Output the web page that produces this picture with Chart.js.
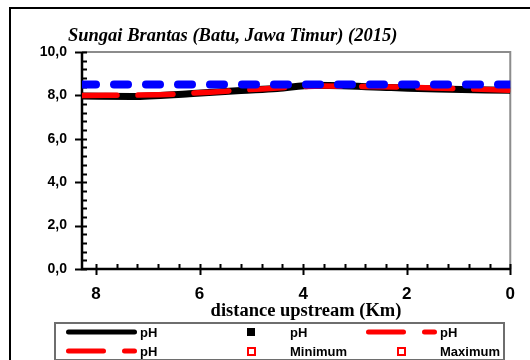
<!DOCTYPE html>
<html>
<head>
<meta charset="utf-8">
<script src="https://cdn.jsdelivr.net/npm/chart.js@4.4.1/dist/chart.umd.min.js"></script>
<style>
  html, body { margin: 0; padding: 0; background: #fff; overflow: hidden; }
  canvas { display: block; }
</style>
</head>
<body>
<canvas id="c" width="530" height="360"></canvas>
<script>
// Texts
const chartTitle = 'Sungai Brantas (Batu, Jawa Timur) (2015)';
const xAxisTitle = 'distance upstream (Km)';

// Axis ranges (km upstream runs right-to-left)
const xRange = [0, 8.27];
const yRange = [0, 10];

// pH profile, solid line
const phDistance = [8.27, 7.3, 6.2, 5.2, 4.5, 3.8, 2.3, 1.4, 0];
const phValues   = [7.97, 7.95, 8.08, 8.23, 8.32, 8.47, 8.36, 8.29, 8.24];

// pH profile, dashed line
const phDashDistance = [8.27, 6.8, 5.8, 4.8, 3.6, 2.5, 1.3, 0];
const phDashValues   = [8.0, 8.03, 8.15, 8.3, 8.43, 8.4, 8.33, 8.24];

// upper pH limit
const limitDistance = [8.27, 0];
const limitValues   = [8.5, 8.5];

const toPoints = (xs, ys) => xs.map((x, i) => ({ x, y: ys[i] }));

const sansNarrow = "'Liberation Sans Narrow', 'Liberation Sans', Arial, sans-serif";
const sans = "'Liberation Sans', Arial, sans-serif";
const serif = "'Liberation Serif', 'Times New Roman', serif";

// Axes drawn Excel-style: black left/bottom axis with crossing major ticks
// and inward minor ticks, grey top/right frame.
const axisPlugin = {
  id: 'axisFrame',
  beforeDatasetsDraw(chart) {
    const { ctx, chartArea: a, scales: { x, y } } = chart;
    ctx.save();
    ctx.lineCap = 'butt';
    ctx.strokeStyle = '#8c8c8c';
    ctx.lineWidth = 2;
    ctx.beginPath();
    ctx.moveTo(a.left, a.top);
    ctx.lineTo(a.right, a.top);
    ctx.lineTo(a.right, a.bottom);
    ctx.stroke();

    ctx.strokeStyle = '#000';
    ctx.lineWidth = 2;
    ctx.beginPath();
    for (let i = 0; i <= 25; i++) {
      const py = Math.round(y.getPixelForValue(i * 0.4)) + 0.5;
      ctx.moveTo(a.left, py); ctx.lineTo(a.left + 5, py);
    }
    for (let i = 0; i <= 20; i++) {
      const px = Math.round(x.getPixelForValue(i * 0.4)) + 0.5;
      ctx.moveTo(px, a.bottom); ctx.lineTo(px, a.bottom - 5);
    }
    y.ticks.forEach(t => {
      const py = Math.round(y.getPixelForValue(t.value)) + 0.5;
      ctx.moveTo(a.left - 7, py); ctx.lineTo(a.left + 5, py);
    });
    x.ticks.forEach(t => {
      const px = Math.round(x.getPixelForValue(t.value)) + 0.5;
      ctx.moveTo(px, a.bottom - 5); ctx.lineTo(px, a.bottom + 6);
    });
    ctx.stroke();

    ctx.lineWidth = 2.5;
    ctx.beginPath();
    ctx.moveTo(a.left, a.top);
    ctx.lineTo(a.left, a.bottom);
    ctx.lineTo(a.right, a.bottom);
    ctx.stroke();
    ctx.restore();
  }
};

// Outer border, chart title and x-axis title
const textPlugin = {
  id: 'texts',
  afterDraw(chart) {
    const { ctx } = chart;
    ctx.save();
    ctx.strokeStyle = '#000';
    ctx.lineWidth = 2;
    ctx.beginPath();
    ctx.moveTo(10, 360);
    ctx.lineTo(10, 8);
    ctx.lineTo(530, 8);
    ctx.stroke();

    ctx.fillStyle = '#000';
    ctx.textBaseline = 'alphabetic';
    ctx.textAlign = 'left';
    ctx.font = 'italic bold 18.5px ' + serif;
    ctx.fillText(chartTitle, 68, 41);

    ctx.textAlign = 'center';
    ctx.font = 'bold 18.5px ' + serif;
    ctx.fillText(xAxisTitle, 306, 316);
    ctx.restore();
  }
};

// Boxed legend laid out in three fixed columns
const legendPlugin = {
  id: 'boxLegend',
  afterDraw(chart) {
    const { ctx } = chart;
    const items = chart.data.datasets.filter(d => d.inLegend);
    ctx.save();
    ctx.strokeStyle = '#6e6e6e';
    ctx.lineWidth = 2;
    ctx.strokeRect(55, 323, 449, 37);

    ctx.font = 'bold 13px ' + sans;
    ctx.textBaseline = 'middle';
    ctx.textAlign = 'left';
    items.forEach((d, i) => {
      const col = i % 3, row = Math.floor(i / 3);
      const x0 = 66 + col * 150;
      const cy = 332 + row * 19;
      if (d.showLine === false) {
        const cx = x0 + 35;
        if (d.pointBackgroundColor && d.pointBackgroundColor !== 'transparent') {
          ctx.fillStyle = d.pointBackgroundColor;
          ctx.fillRect(cx - 4, cy - 4, 8, 8);
        } else {
          ctx.strokeStyle = d.pointBorderColor;
          ctx.lineWidth = 2;
          ctx.strokeRect(cx - 3, cy - 3, 7, 7);
        }
      } else {
        ctx.strokeStyle = d.borderColor;
        ctx.lineWidth = 5;
        ctx.lineCap = 'round';
        ctx.setLineDash(d.borderDash || []);
        ctx.beginPath();
        ctx.moveTo(x0 + 2.5, cy);
        ctx.lineTo(x0 + 68.5, cy);
        ctx.stroke();
        ctx.setLineDash([]);
      }
      ctx.fillStyle = '#000';
      ctx.fillText(d.label, x0 + 74, cy + 1);
    });
    ctx.restore();
  }
};

new Chart(document.getElementById('c'), {
  type: 'line',
  data: {
    datasets: [
      {
        label: 'pH', inLegend: true, order: 3,
        data: toPoints(phDistance, phValues),
        borderColor: '#000000', borderWidth: 7, borderCapStyle: 'butt',
        cubicInterpolationMode: 'monotone', pointRadius: 0
      },
      {
        label: 'pH', inLegend: true, order: 4, showLine: false,
        data: [],
        pointStyle: 'rect', pointBackgroundColor: '#000000', pointBorderColor: '#000000', pointRadius: 4
      },
      {
        label: 'pH', inLegend: true, order: 2,
        data: toPoints(phDashDistance, phDashValues),
        borderColor: '#ff0000', borderWidth: 5.5, borderDash: [35, 21], borderCapStyle: 'round',
        cubicInterpolationMode: 'monotone', pointRadius: 0
      },
      {
        label: 'pH', inLegend: true, order: 5,
        data: [],
        borderColor: '#ff0000', borderWidth: 5.5, borderDash: [35, 21], borderCapStyle: 'round',
        pointRadius: 0
      },
      {
        label: 'Minimum', inLegend: true, order: 6, showLine: false,
        data: [],
        pointStyle: 'rect', pointBackgroundColor: 'transparent', pointBorderColor: '#ff0000', pointRadius: 4
      },
      {
        label: 'Maximum', inLegend: true, order: 7, showLine: false,
        data: [],
        pointStyle: 'rect', pointBackgroundColor: 'transparent', pointBorderColor: '#ff0000', pointRadius: 4
      },
      {
        label: 'pH 8,5', inLegend: false, order: 1,
        data: toPoints(limitDistance, limitValues),
        borderColor: '#0000ff', borderWidth: 8, borderDash: [14, 18], borderCapStyle: 'round',
        pointRadius: 0
      }
    ]
  },
  options: {
    responsive: false,
    animation: false,
    devicePixelRatio: 1,
    layout: { padding: { top: 52, right: 18, left: 0, bottom: 0 } },
    plugins: { legend: { display: false }, title: { display: false }, tooltip: { enabled: false } },
    scales: {
      x: {
        type: 'linear', reverse: true, min: xRange[0], max: xRange[1],
        grid: { display: false, drawTicks: false }, border: { display: false },
        ticks: {
          stepSize: 2, includeBounds: false, padding: 15, color: '#000', maxRotation: 0,
          font: { family: sansNarrow, size: 17, weight: 'bold' },
          callback: v => String(v)
        },
        afterFit: s => { s.height = 91; }
      },
      y: {
        type: 'linear', min: yRange[0], max: yRange[1],
        grid: { display: false, drawTicks: false }, border: { display: false },
        ticks: {
          stepSize: 2, padding: 15, color: '#000',
          font: { family: sansNarrow, size: 14, weight: 'bold' },
          callback: v => v.toFixed(1).replace('.', ',')
        },
        afterFit: s => { s.width = 82; }
      }
    }
  },
  plugins: [axisPlugin, textPlugin, legendPlugin]
});
</script>
</body>
</html>
